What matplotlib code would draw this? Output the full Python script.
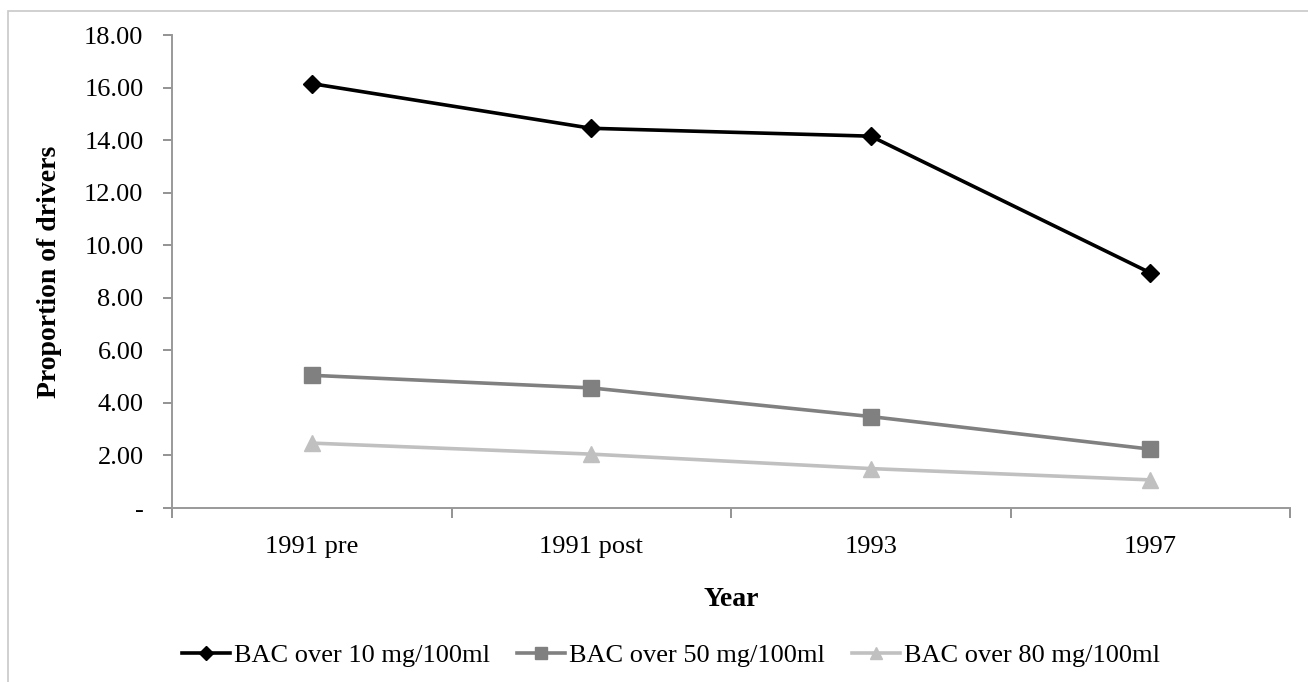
import matplotlib
matplotlib.use("Agg")
import matplotlib.pyplot as plt
from matplotlib.patches import Rectangle
from matplotlib.ticker import FixedLocator, FuncFormatter

categories = ["1991 pre", "1991 post", "1993", "1997"]
bac_10 = [16.15, 14.45, 14.15, 8.95]
bac_50 = [5.05, 4.57, 3.48, 2.24]
bac_80 = [2.47, 2.05, 1.50, 1.07]
series_labels = ["BAC over 10 mg/100ml", "BAC over 50 mg/100ml", "BAC over 80 mg/100ml"]

W, H = 1308, 682
fig = plt.figure(figsize=(W / 100, H / 100), dpi=100)
plt.rcParams["font.family"] = ["Liberation Serif", "DejaVu Serif"]

# chart-area border (left and top edges visible)
fig.patches.append(Rectangle((8 / W, -0.1), 1.2, 1 - 11 / H + 0.1,
                             transform=fig.transFigure, fill=False,
                             edgecolor="#c8c8c8", linewidth=1.2))

ax = fig.add_axes([172 / W, 1 - 508 / H, (1290 - 172) / W, (508 - 35) / H])

x = list(range(len(categories)))
ax.plot(x, bac_10, color="black", lw=2.6, marker="D", ms=9, label=series_labels[0])
ax.plot(x, bac_50, color="#808080", lw=2.6, marker="s", ms=11, label=series_labels[1])
ax.plot(x, bac_80, color="#c0c0c0", lw=2.6, marker="^", ms=11, label=series_labels[2])

ax.set_xlim(-0.5, len(categories) - 0.5)
ax.set_ylim(0, 18)
ax.set_xticks(x)
ax.set_xticklabels(categories, fontsize=19)
ax.xaxis.set_minor_locator(FixedLocator([i - 0.5 for i in range(len(categories) + 1)]))
ax.tick_params(axis="x", which="major", length=0, pad=20)
ax.tick_params(axis="x", which="minor", length=7, color="#808080", width=1.2)

ax.set_yticks(range(0, 19, 2))
ax.yaxis.set_major_formatter(FuncFormatter(lambda v, p: "-" if v == 0 else f"{v:.2f}"))
ax.tick_params(axis="y", length=6.5, color="#808080", width=1.2, labelsize=19, pad=14)

for side in ("top", "right"):
    ax.spines[side].set_visible(False)
for side in ("left", "bottom"):
    ax.spines[side].set_color("#999999")
    ax.spines[side].set_linewidth(1.4)

ax.set_xlabel("Year", fontsize=20, fontweight="bold")
ax.xaxis.set_label_coords(0.5, (508 - 587) / (508 - 35), transform=ax.transAxes)
ax.set_ylabel("Proportion of drivers", fontsize=20, fontweight="bold")
ax.yaxis.set_label_coords((62 - 172) / (1290 - 172), 0.5, transform=ax.transAxes)

leg = fig.legend(loc="center", bbox_to_anchor=(671 / W, 1 - 655 / H), ncol=3,
                 frameon=False, fontsize=19, handlelength=1.8, handletextpad=0.15,
                 columnspacing=1.05, markerscale=0.8)

fig.savefig("out.png", dpi=100, facecolor="white")
